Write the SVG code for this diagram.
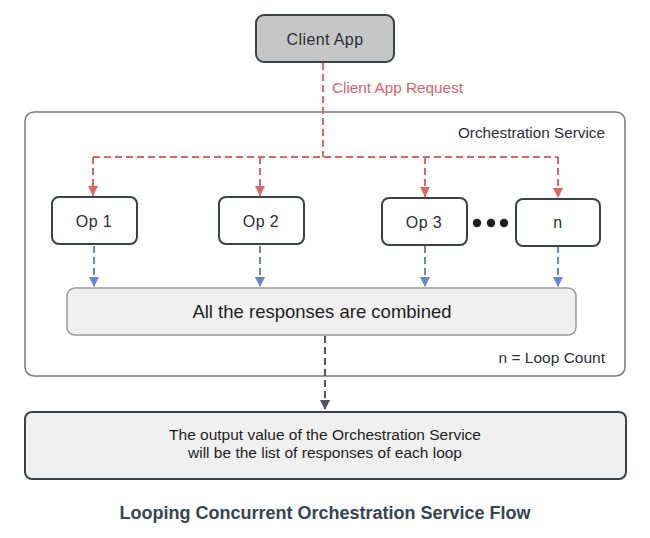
<svg xmlns="http://www.w3.org/2000/svg" width="650" height="538" viewBox="0 0 650 538">
<style>
text{font-family:"Liberation Sans","DejaVu Sans",Arial,sans-serif;fill:#2b2f36}
.op{fill:#ffffff;stroke:#3c4148;stroke-width:2}
.red{stroke:#e06666;stroke-width:2;stroke-dasharray:7,4;fill:none}
.blue{stroke:#6a83d9;stroke-width:2;stroke-dasharray:7,4;fill:none}
.dark{stroke:#50555c;stroke-width:2;stroke-dasharray:7,4;fill:none}
.lbl{font-size:16px;text-anchor:middle;letter-spacing:0.4px}
</style>
<defs>
<marker id="ar" viewBox="0 0 10 10" refX="10" refY="5" markerWidth="10" markerHeight="10" markerUnits="userSpaceOnUse" orient="auto"><path d="M0,0 L10,5 L0,10 z" fill="#e06666"/></marker>
<marker id="ab" viewBox="0 0 10 10" refX="10" refY="5" markerWidth="10" markerHeight="10" markerUnits="userSpaceOnUse" orient="auto"><path d="M0,0 L10,5 L0,10 z" fill="#6a83d9"/></marker>
<marker id="ad" viewBox="0 0 10 10" refX="10" refY="5" markerWidth="10" markerHeight="10" markerUnits="userSpaceOnUse" orient="auto"><path d="M0,0 L10,5 L0,10 z" fill="#50555c"/></marker>
</defs>
<rect width="650" height="538" fill="#ffffff"/>

<g id="orchestration">
<rect x="25" y="112" width="600" height="264" rx="9" fill="#ffffff" stroke="#7a7a7a" stroke-width="1.5"/>
<text x="605" y="138" font-size="15.3" text-anchor="end">Orchestration Service</text>
<text x="605" y="363" font-size="15.5" text-anchor="end">n = Loop Count</text>
</g>

<g id="client-app">
<rect x="256" y="15" width="138" height="47" rx="8" fill="#c6c6c6" stroke="#3c4148" stroke-width="2"/>
<text x="325" y="45" class="lbl">Client App</text>
</g>

<g id="connectors">
<line x1="323" y1="63" x2="323" y2="157" class="red"/>
<text x="332" y="93" font-size="15.3" style="fill:#d9646a">Client App Request</text>
<line x1="93" y1="157" x2="558" y2="157" class="red"/>
<line x1="93" y1="157" x2="93" y2="196" class="red" marker-end="url(#ar)"/>
<line x1="260" y1="157" x2="260" y2="196" class="red" marker-end="url(#ar)"/>
<line x1="425" y1="157" x2="425" y2="197" class="red" marker-end="url(#ar)"/>
<line x1="558" y1="157" x2="558" y2="198" class="red" marker-end="url(#ar)"/>
<line x1="94" y1="246" x2="94" y2="287" class="blue" marker-end="url(#ab)"/>
<line x1="260" y1="246" x2="260" y2="287" class="blue" marker-end="url(#ab)"/>
<line x1="425" y1="246" x2="425" y2="287" class="blue" marker-end="url(#ab)"/>
<line x1="558" y1="246" x2="558" y2="287" class="blue" marker-end="url(#ab)"/>
<line x1="325" y1="336" x2="325" y2="410" class="dark" marker-end="url(#ad)"/>
</g>

<g id="op1">
<rect x="52" y="197" width="85" height="47" rx="7" class="op"/>
<text x="94" y="227" class="lbl">Op 1</text>
</g>
<g id="op2">
<rect x="219" y="197" width="85" height="47" rx="7" class="op"/>
<text x="261" y="227" class="lbl">Op 2</text>
</g>
<g id="op3">
<rect x="382" y="198" width="85" height="47" rx="7" class="op"/>
<text x="424" y="228" class="lbl">Op 3</text>
</g>
<g id="ellipsis">
<circle cx="477" cy="223" r="4.2" fill="#1e1e1e"/>
<circle cx="491" cy="223" r="4.2" fill="#1e1e1e"/>
<circle cx="504" cy="223" r="4.2" fill="#1e1e1e"/>
</g>
<g id="opn">
<rect x="516" y="199" width="84" height="47" rx="7" class="op"/>
<text x="558" y="228" class="lbl" font-size="14">n</text>
</g>

<g id="combined">
<rect x="67" y="288" width="509" height="47" rx="8" fill="#f0f0f0" stroke="#9a9a9a" stroke-width="1.5"/>
<text x="322" y="318" font-size="18.5" text-anchor="middle" style="fill:#1e1e1e">All the responses are combined</text>
</g>

<g id="output">
<rect x="25" y="412" width="601" height="67" rx="7" fill="#f0f0f1" stroke="#3c4148" stroke-width="2"/>
<text x="325" y="440" font-size="15.5" text-anchor="middle" style="fill:#1e1e1e">The output value of the Orchestration Service</text>
<text x="325" y="458" font-size="15.5" text-anchor="middle" style="fill:#1e1e1e">will be the list of responses of each loop</text>
</g>

<g id="title">
<text x="325" y="519" font-size="18" font-weight="bold" text-anchor="middle" style="fill:#3a4350">Looping Concurrent Orchestration Service Flow</text>
</g>
</svg>
